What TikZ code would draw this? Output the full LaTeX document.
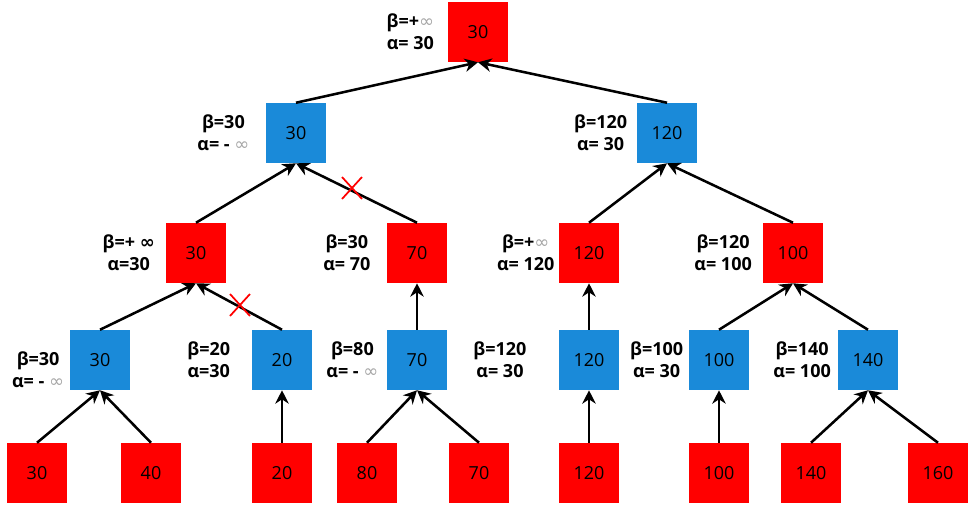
\documentclass[tikz,border=0pt]{standalone}
\usepackage{fontspec}
\setmainfont{Open Sans}
\newfontfamily\symfont{DejaVu Sans}
\usetikzlibrary{positioning,arrows.meta}
\definecolor{maxred}{RGB}{255,0,0}
\definecolor{minblue}{RGB}{26,138,217}
\newcommand{\infy}{{\normalfont\symfont\color{gray!70}∞}}

\begin{document}
\begin{tikzpicture}[x=0.75pt,y=-0.75pt,font=\fontsize{13.5}{16.5}\selectfont]

\tikzstyle{MAX} = [rectangle, minimum size=45pt, inner sep=0pt, fill=maxred]
\tikzstyle{MIN} = [rectangle, minimum size=45pt, inner sep=0pt, fill=minblue]
\tikzstyle{LBL} = [align=center, font=\fontsize{13.5}{16.5}\selectfont\bfseries, inner sep=0pt]
\tikzstyle{arrow} = [line width=1.9pt, -{Stealth[length=10pt,width=10pt]}]
\tikzstyle{cut} = [maxred, line width=1.3pt]

\useasboundingbox (0,0) rectangle (972,507);

% max / min nodes
\node (root) [MAX] at (478,32) {30};
\node (minA) [MIN] at (296,133) {30};
\node (minB) [MIN] at (667,133) {120};
\node (maxA) [MAX] at (196,253) {30};
\node (maxB) [MAX] at (417,253) {70};
\node (maxC) [MAX] at (589,253) {120};
\node (maxD) [MAX] at (793,253) {100};
\node (minA1) [MIN] at (100,360) {30};
\node (minA2) [MIN] at (282,360) {20};
\node (minB1) [MIN] at (417,360) {70};
\node (minC1) [MIN] at (589,360) {120};
\node (minD1) [MIN] at (719,360) {100};
\node (minD2) [MIN] at (868,360) {140};

% leaves
\node (leafA) [MAX] at (37,473) {30};
\node (leafB) [MAX] at (151,473) {40};
\node (leafC) [MAX] at (282,473) {20};
\node (leafD) [MAX] at (367,473) {80};
\node (leafE) [MAX] at (479,473) {70};
\node (leafF) [MAX] at (589,473) {120};
\node (leafG) [MAX] at (719,473) {100};
\node (leafH) [MAX] at (811,473) {140};
\node (leafI) [MAX] at (938,473) {160};

% alpha / beta labels
\node [LBL, left=10pt of root] {β=+\infy\\α= 30};
\node [LBL, left=12pt of minA] {β=30\\α= - \infy};
\node [LBL, left=7pt of minB] {β=120\\α= 30};
\node [LBL, left=8pt of maxA] {β=+ {\symfont\bfseries ∞}\\α=30};
\node [LBL, left=12pt of maxB] {β=30\\α= 70};
\node [LBL, left=3pt of maxC] {β=+\infy\\α= 120};
\node [LBL, left=8pt of maxD] {β=120\\α= 100};
\node [LBL, left=4pt of minA1, yshift=-7pt] {β=30\\α= - \infy};
\node [LBL, left=16pt of minA2] {β=20\\α=30};
\node [LBL, left=6pt of minB1] {β=80\\α= - \infy};
\node [LBL, left=24pt of minC1] {β=120\\α= 30};
\node [LBL, left=4pt of minD1] {β=100\\α= 30};
\node [LBL, left=5pt of minD2] {β=140\\α= 100};

% edges
\draw[arrow] (minA.north) -- (root.south);
\draw[arrow] (minB.north) -- (root.south);
\draw[arrow] (maxA.north) -- (minA.south);
\draw[arrow] (maxB.north) -- (minA.south);
\draw[arrow] (maxC.north) -- (minB.south);
\draw[arrow] (maxD.north) -- (minB.south);
\draw[arrow] (minA1.north) -- (maxA.south);
\draw[arrow] (minA2.north) -- (maxA.south);
\draw[arrow] (minB1.north) -- (maxB.south);
\draw[arrow] (minC1.north) -- (maxC.south);
\draw[arrow] (minD1.north) -- (maxD.south);
\draw[arrow] (minD2.north) -- (maxD.south);
\draw[arrow] (leafA.north) -- (minA1.south);
\draw[arrow] (leafB.north) -- (minA1.south);
\draw[arrow] (leafC.north) -- (minA2.south);
\draw[arrow] (leafD.north) -- (minB1.south);
\draw[arrow] (leafE.north) -- (minB1.south);
\draw[arrow] (leafF.north) -- (minC1.south);
\draw[arrow] (leafG.north) -- (minD1.south);
\draw[arrow] (leafH.north) -- (minD2.south);
\draw[arrow] (leafI.north) -- (minD2.south);

% pruned branches
\coordinate (cutB) at (352,188);
\coordinate (cutA) at (240,305);
\draw[cut] ([shift={(-10,-11)}]cutB) -- ([shift={(10,11)}]cutB);
\draw[cut] ([shift={(-10,11)}]cutB) -- ([shift={(10,-11)}]cutB);
\draw[cut] ([shift={(-10,-11)}]cutA) -- ([shift={(10,11)}]cutA);
\draw[cut] ([shift={(-10,11)}]cutA) -- ([shift={(10,-11)}]cutA);

\end{tikzpicture}
\end{document}
